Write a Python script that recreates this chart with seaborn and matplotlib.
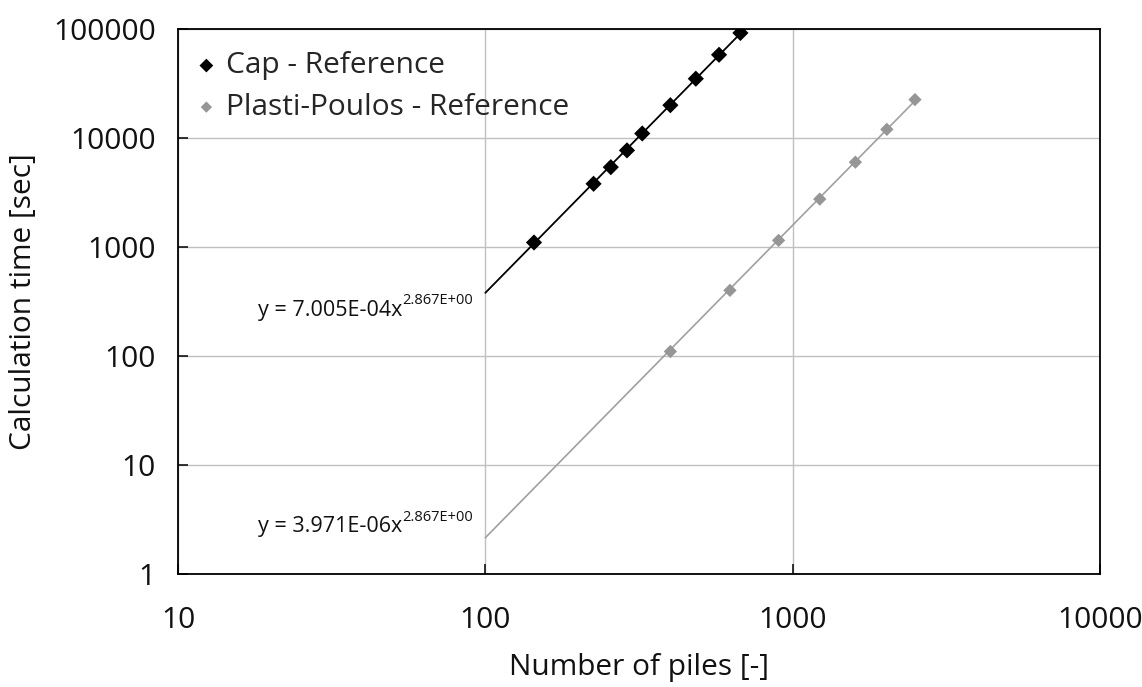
import numpy as np
import pandas as pd
import matplotlib
matplotlib.use("Agg")
import matplotlib.pyplot as plt
import seaborn as sns
from matplotlib import font_manager
from matplotlib.ticker import FixedLocator, FixedFormatter, NullLocator

# ---------------- data ----------------
cap_x = [144, 225, 256, 289, 324, 400, 484, 576, 676]
cap_y = [1100, 3800, 5400, 7700, 11000, 20000, 35000, 58000, 92000]
pp_x = [400, 625, 900, 1225, 1600, 2025, 2500]
pp_y = [110, 400, 1150, 2750, 6000, 12000, 22500]

cap_coef = (7.005e-4, 2.867)
pp_coef = (3.971e-6, 2.867)
cap_eq = ("y = 7.005E-04x", "2.867E+00")
pp_eq = ("y = 3.971E-06x", "2.867E+00")

x_ticks = [10, 100, 1000, 10000]
y_ticks = [1, 10, 100, 1000, 10000, 100000]
x_label = "Number of piles [-]"
y_label = "Calculation time [sec]"
cap_name = "Cap - Reference"
pp_name = "Plasti-Poulos - Reference"

# ---------------- style ----------------
sns.set_theme(style="white")
available = {f.name for f in font_manager.fontManager.ttflist}
family = None
for cand in ["DejaVu Sans Condensed", "Liberation Sans Narrow", "Open Sans", "DejaVu Sans"]:
    if cand in available:
        family = cand
        break
plt.rcParams["font.family"] = [family, "DejaVu Sans"]

FS = 21.5
fig = plt.figure(figsize=(11.42, 6.87), dpi=100)
ax = fig.add_axes([178 / 1142, 1 - 574 / 687, (1100 - 178) / 1142, (574 - 29) / 687])

cap_df = pd.DataFrame({"x": cap_x, "y": cap_y})
pp_df = pd.DataFrame({"x": pp_x, "y": pp_y})

# trendlines
cap_tx = np.geomspace(100, max(cap_x), 50)
pp_tx = np.geomspace(100, max(pp_x), 50)
cap_line = pd.DataFrame({"x": cap_tx, "y": cap_coef[0] * cap_tx ** cap_coef[1]})
pp_line = pd.DataFrame({"x": pp_tx, "y": pp_coef[0] * pp_tx ** pp_coef[1]})

ax.set_xscale("log")
ax.set_yscale("log")

sns.lineplot(data=cap_line, x="x", y="y", ax=ax, color="black", lw=1.3, zorder=3, legend=False)
sns.lineplot(data=pp_line, x="x", y="y", ax=ax, color="#a0a0a0", lw=1.2, zorder=3, legend=False)
sns.scatterplot(data=cap_df, x="x", y="y", ax=ax, marker="D", s=68, color="black",
                edgecolor="none", zorder=4, label=cap_name)
sns.scatterplot(data=pp_df, x="x", y="y", ax=ax, marker="D", s=46, color="#969696",
                edgecolor="none", zorder=4, label=pp_name)

ax.set_xlim(10, 10000)
ax.set_ylim(1, 100000)

ax.xaxis.set_major_locator(FixedLocator(x_ticks))
ax.yaxis.set_major_locator(FixedLocator(y_ticks))
ax.xaxis.set_major_formatter(FixedFormatter([str(v) for v in x_ticks]))
ax.yaxis.set_major_formatter(FixedFormatter([str(v) for v in y_ticks]))
ax.xaxis.set_minor_locator(NullLocator())
ax.yaxis.set_minor_locator(NullLocator())

ax.grid(True, which="major", color="#c0c0c0", lw=1.0)
for s in ax.spines.values():
    s.set_visible(True)
    s.set_color("black")
    s.set_linewidth(1.3)

ax.tick_params(axis="both", which="major", direction="in", length=7, width=1.1,
               colors="black", labelsize=FS, bottom=True, left=True, top=False, right=False)
ax.tick_params(axis="x", pad=23)
ax.tick_params(axis="y", pad=16)
for lab in ax.get_xticklabels() + ax.get_yticklabels():
    lab.set_color("#111111")

ax.set_xlabel(x_label, fontsize=FS, labelpad=13, color="#111111")
ax.set_ylabel(y_label, fontsize=FS, labelpad=11, color="#111111")

# equation labels
for (base, sup), yv in [(cap_eq, 261), (pp_eq, 2.7)]:
    t = ax.text(53.8, yv, base, fontsize=15.5, ha="right", va="center", color="#111111")
    ax.annotate(sup, xy=(1.0, 0.6), xycoords=t, fontsize=10.5, ha="left", va="bottom",
                color="#111111")

leg = ax.legend(loc="upper left", frameon=False, fontsize=FS, handlelength=0.4,
                handletextpad=0.45, labelspacing=0.42, borderaxespad=0.3,
                borderpad=0.45, markerscale=0.85)

fig.savefig("out.png", dpi=100)
